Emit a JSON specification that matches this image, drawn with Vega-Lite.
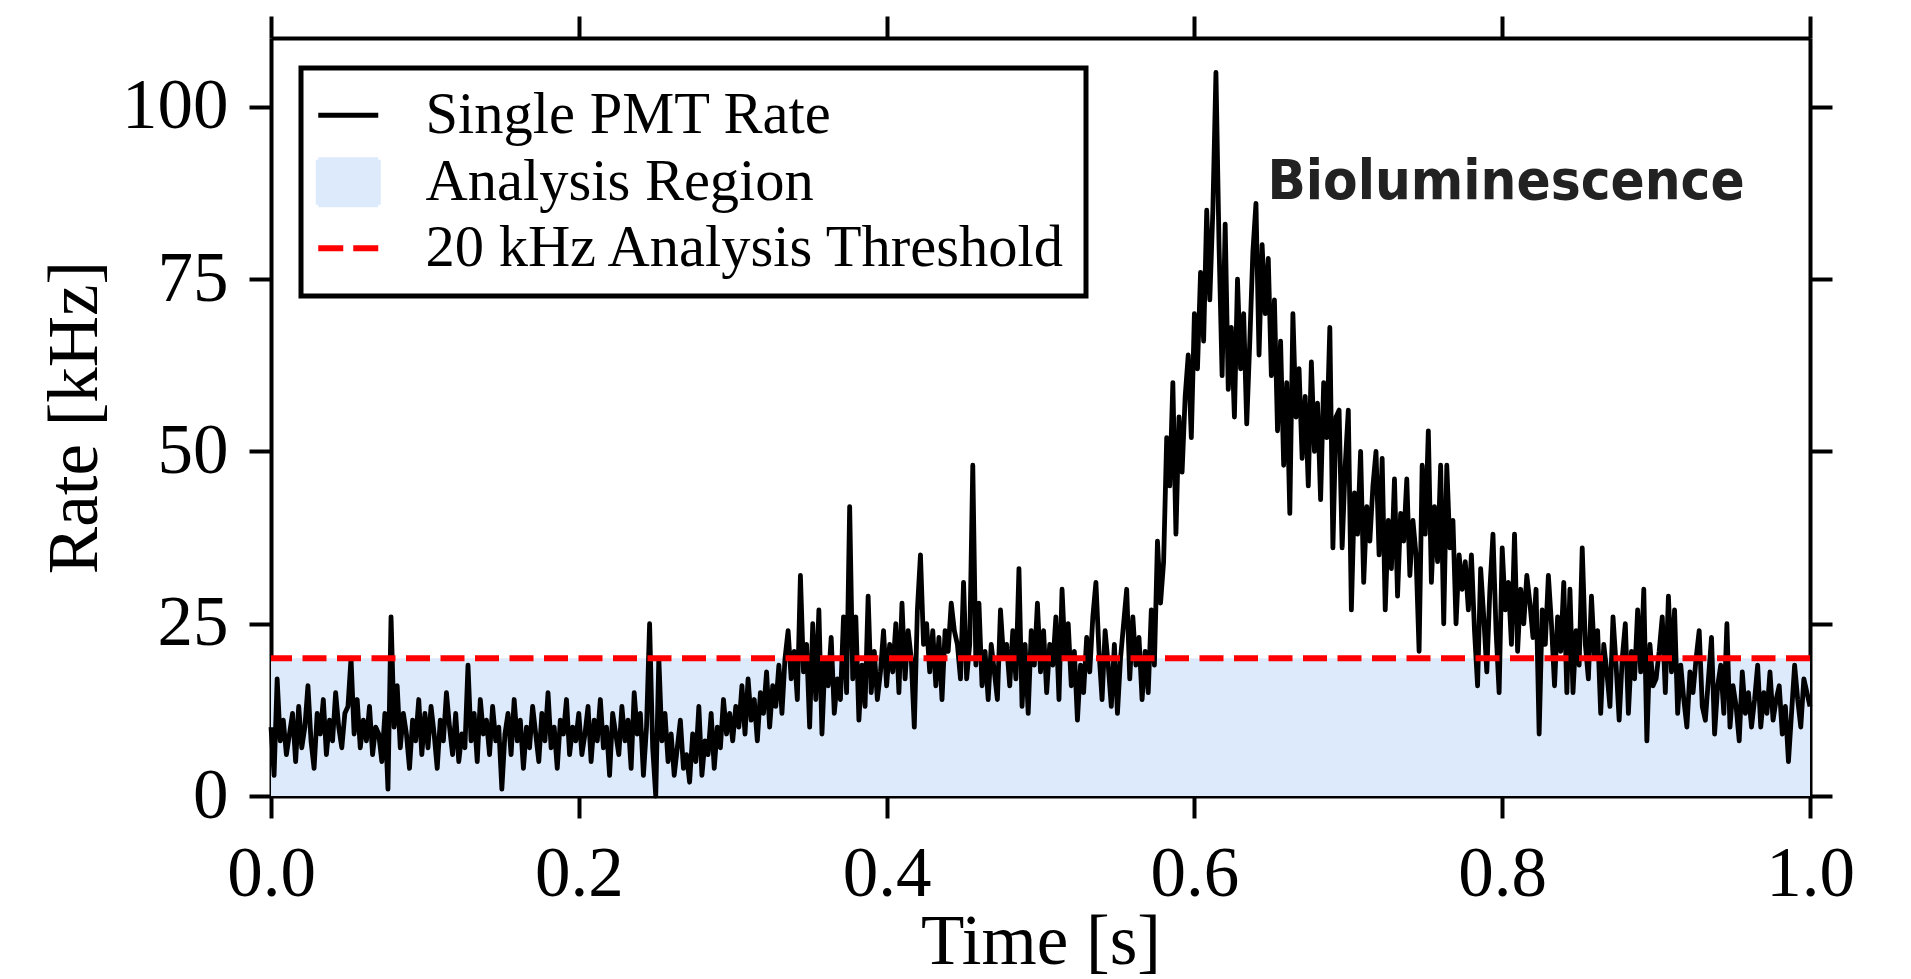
{
  "$schema": "https://vega.github.io/schema/vega-lite/v6.json",
  "width": 1539,
  "height": 758,
  "autosize": {"type": "none"},
  "padding": {"left": 271, "top": 38, "right": 101, "bottom": 183},
  "background": "white",
  "config": {
    "view": {"stroke": null},
    "legend": {"strokeWidth": 5, "strokeColor": "black", "fillColor": "white", "cornerRadius": 0},
    "axis": {
      "domainColor": "black", "domainWidth": 4, "tickColor": "black", "tickWidth": 4, "tickSize": 22,
      "labelFont": "Liberation Serif", "labelFontSize": 71, "labelColor": "black", "labelPadding": 21,
      "labelFlush": false, "labelOverlap": false,
      "titleFont": "Liberation Serif", "titleFontSize": 71, "titleFontWeight": "normal", "titleColor": "black",
      "grid": false
    }
  },
  "resolve": {"axis": {"x": "independent", "y": "independent"}},
  "layer": [
    {
      "data": {"values": [{"x0": 0, "x1": 1, "y0": 0, "y1": 20}]},
      "mark": {"type": "rect"},
      "encoding": {
        "x": {"field": "x0", "type": "quantitative", "scale": {"domain": [0, 1], "nice": false},
              "axis": {"orient": "bottom", "title": "Time [s]", "values": [0, 0.2, 0.4, 0.6, 0.8, 1], "format": ".1f", "titlePadding": -2}},
        "x2": {"field": "x1"},
        "y": {"field": "y0", "type": "quantitative", "scale": {"domain": [0, 110], "nice": false, "zero": true},
              "axis": {"orient": "left", "title": "Rate [kHz]", "values": [0, 25, 50, 75, 100], "titlePadding": 10}},
        "y2": {"field": "y1"},
        "color": {
          "datum": "Analysis Region", "type": "nominal",
          "scale": {"domain": ["Single PMT Rate", "Analysis Region", "20 kHz Analysis Threshold"], "range": ["black", "#ddeafc", "red"]},
          "legend": {
            "title": null, "orient": "top-left", "offset": 30, "padding": 18,
            "strokeColor": "black", "fillColor": "white",
            "symbolSize": 3600, "symbolStrokeWidth": 5, "symbolOffset": 0,
            "labelFont": "Liberation Serif", "labelFontSize": 58.5, "labelColor": "black", "labelOffset": 48, "labelLimit": 1200,
            "rowPadding": 4,
            "encode": {"symbols": {"update": {
              "shape": {"signal": "datum.value === 'Analysis Region' ? 'M-1,-0.75H1V0.75H-1Z' : 'stroke'"},
              "fill": {"signal": "datum.value === 'Analysis Region' ? '#ddeafc' : 'transparent'"},
              "stroke": {"signal": "datum.value === 'Single PMT Rate' ? 'black' : (datum.value === 'Analysis Region' ? 'transparent' : 'red')"},
              "strokeDash": {"signal": "datum.value === '20 kHz Analysis Threshold' ? [25, 10] : [1, 0]"},
              "strokeWidth": {"signal": "datum.value === '20 kHz Analysis Threshold' ? 6 : 5"},
              "opacity": {"value": 1},
              "fillOpacity": {"value": 1},
              "strokeOpacity": {"value": 1}
            }}}
          }
        }
      }
    },
    {
      "data": {"values": [
        {"t":0.000,"r":10},{"t":0.002,"r":3},{"t":0.004,"r":17},{"t":0.006,"r":8},{"t":0.008,"r":11},{"t":0.010,"r":6},{"t":0.012,"r":9},{"t":0.014,"r":12},{"t":0.016,"r":5},{"t":0.018,"r":13},{"t":0.020,"r":7},{"t":0.022,"r":10},{"t":0.024,"r":16},{"t":0.026,"r":8},{"t":0.028,"r":4},{"t":0.030,"r":12},{"t":0.032,"r":9},{"t":0.034,"r":14},{"t":0.036,"r":6},{"t":0.038,"r":11},{"t":0.040,"r":8},{"t":0.042,"r":15},{"t":0.044,"r":10},{"t":0.046,"r":7},{"t":0.048,"r":12},
        {"t":0.050,"r":13},{"t":0.052,"r":20},{"t":0.054,"r":9},{"t":0.056,"r":14},{"t":0.058,"r":7},{"t":0.060,"r":11},{"t":0.062,"r":8},{"t":0.064,"r":13},{"t":0.066,"r":6},{"t":0.068,"r":10},{"t":0.070,"r":9},{"t":0.072,"r":5},{"t":0.074,"r":12},{"t":0.076,"r":1},{"t":0.078,"r":26},{"t":0.080,"r":10},{"t":0.082,"r":16},{"t":0.084,"r":7},{"t":0.086,"r":12},{"t":0.088,"r":9},{"t":0.090,"r":4},{"t":0.092,"r":11},{"t":0.094,"r":8},{"t":0.096,"r":14},{"t":0.098,"r":6},
        {"t":0.100,"r":12},{"t":0.102,"r":7},{"t":0.104,"r":13},{"t":0.106,"r":9},{"t":0.108,"r":4},{"t":0.110,"r":11},{"t":0.112,"r":8},{"t":0.114,"r":15},{"t":0.116,"r":10},{"t":0.118,"r":6},{"t":0.120,"r":12},{"t":0.122,"r":5},{"t":0.124,"r":9},{"t":0.126,"r":7},{"t":0.128,"r":19},{"t":0.130,"r":8},{"t":0.132,"r":12},{"t":0.134,"r":5},{"t":0.136,"r":14},{"t":0.138,"r":9},{"t":0.140,"r":11},{"t":0.142,"r":6},{"t":0.144,"r":13},{"t":0.146,"r":8},{"t":0.148,"r":10},
        {"t":0.150,"r":1},{"t":0.152,"r":9},{"t":0.154,"r":12},{"t":0.156,"r":6},{"t":0.158,"r":14},{"t":0.160,"r":8},{"t":0.162,"r":11},{"t":0.164,"r":4},{"t":0.166,"r":10},{"t":0.168,"r":7},{"t":0.170,"r":13},{"t":0.172,"r":9},{"t":0.174,"r":5},{"t":0.176,"r":12},{"t":0.178,"r":8},{"t":0.180,"r":15},{"t":0.182,"r":7},{"t":0.184,"r":10},{"t":0.186,"r":4},{"t":0.188,"r":11},{"t":0.190,"r":9},{"t":0.192,"r":14},{"t":0.194,"r":6},{"t":0.196,"r":10},{"t":0.198,"r":8},
        {"t":0.200,"r":12},{"t":0.202,"r":6},{"t":0.204,"r":9},{"t":0.206,"r":13},{"t":0.208,"r":5},{"t":0.210,"r":11},{"t":0.212,"r":8},{"t":0.214,"r":14},{"t":0.216,"r":7},{"t":0.218,"r":10},{"t":0.220,"r":3},{"t":0.222,"r":12},{"t":0.224,"r":9},{"t":0.226,"r":6},{"t":0.228,"r":13},{"t":0.230,"r":8},{"t":0.232,"r":11},{"t":0.234,"r":4},{"t":0.236,"r":15},{"t":0.238,"r":9},{"t":0.240,"r":12},{"t":0.242,"r":3},{"t":0.244,"r":10},{"t":0.246,"r":25},{"t":0.248,"r":7},
        {"t":0.250,"r":0},{"t":0.252,"r":20},{"t":0.254,"r":8},{"t":0.256,"r":12},{"t":0.258,"r":5},{"t":0.260,"r":9},{"t":0.262,"r":3},{"t":0.264,"r":7},{"t":0.266,"r":11},{"t":0.268,"r":4},{"t":0.270,"r":6},{"t":0.272,"r":2},{"t":0.274,"r":9},{"t":0.276,"r":5},{"t":0.278,"r":13},{"t":0.280,"r":3},{"t":0.282,"r":8},{"t":0.284,"r":6},{"t":0.286,"r":12},{"t":0.288,"r":4},{"t":0.290,"r":10},{"t":0.292,"r":7},{"t":0.294,"r":14},{"t":0.296,"r":9},{"t":0.298,"r":12},
        {"t":0.300,"r":8},{"t":0.302,"r":13},{"t":0.304,"r":10},{"t":0.306,"r":16},{"t":0.308,"r":9},{"t":0.310,"r":17},{"t":0.312,"r":11},{"t":0.314,"r":14},{"t":0.316,"r":8},{"t":0.318,"r":15},{"t":0.320,"r":12},{"t":0.322,"r":18},{"t":0.324,"r":10},{"t":0.326,"r":16},{"t":0.328,"r":13},{"t":0.330,"r":19},{"t":0.332,"r":12},{"t":0.334,"r":20},{"t":0.336,"r":24},{"t":0.338,"r":17},{"t":0.340,"r":21},{"t":0.342,"r":14},{"t":0.344,"r":32},{"t":0.346,"r":18},{"t":0.348,"r":22},
        {"t":0.350,"r":10},{"t":0.352,"r":25},{"t":0.354,"r":14},{"t":0.356,"r":27},{"t":0.358,"r":9},{"t":0.360,"r":20},{"t":0.362,"r":16},{"t":0.364,"r":23},{"t":0.366,"r":12},{"t":0.368,"r":17},{"t":0.370,"r":14},{"t":0.372,"r":26},{"t":0.374,"r":15},{"t":0.376,"r":42},{"t":0.378,"r":17},{"t":0.380,"r":26},{"t":0.382,"r":11},{"t":0.384,"r":19},{"t":0.386,"r":13},{"t":0.388,"r":29},{"t":0.390,"r":15},{"t":0.392,"r":21},{"t":0.394,"r":14},{"t":0.396,"r":18},{"t":0.398,"r":24},
        {"t":0.400,"r":16},{"t":0.402,"r":22},{"t":0.404,"r":18},{"t":0.406,"r":25},{"t":0.408,"r":15},{"t":0.410,"r":28},{"t":0.412,"r":17},{"t":0.414,"r":24},{"t":0.416,"r":20},{"t":0.418,"r":10},{"t":0.420,"r":27},{"t":0.422,"r":35},{"t":0.424,"r":22},{"t":0.426,"r":25},{"t":0.428,"r":18},{"t":0.430,"r":24},{"t":0.432,"r":16},{"t":0.434,"r":23},{"t":0.436,"r":14},{"t":0.438,"r":24},{"t":0.440,"r":21},{"t":0.442,"r":28},{"t":0.444,"r":24},{"t":0.446,"r":22},{"t":0.448,"r":17},
        {"t":0.450,"r":31},{"t":0.452,"r":17},{"t":0.454,"r":22},{"t":0.456,"r":48},{"t":0.458,"r":19},{"t":0.460,"r":28},{"t":0.462,"r":16},{"t":0.464,"r":21},{"t":0.466,"r":14},{"t":0.468,"r":22},{"t":0.470,"r":18},{"t":0.472,"r":14},{"t":0.474,"r":27},{"t":0.476,"r":20},{"t":0.478,"r":22},{"t":0.480,"r":16},{"t":0.482,"r":24},{"t":0.484,"r":17},{"t":0.486,"r":33},{"t":0.488,"r":13},{"t":0.490,"r":22},{"t":0.492,"r":12},{"t":0.494,"r":24},{"t":0.496,"r":19},{"t":0.498,"r":28},
        {"t":0.500,"r":18},{"t":0.502,"r":24},{"t":0.504,"r":15},{"t":0.506,"r":22},{"t":0.508,"r":19},{"t":0.510,"r":26},{"t":0.512,"r":14},{"t":0.514,"r":30},{"t":0.516,"r":20},{"t":0.518,"r":25},{"t":0.520,"r":16},{"t":0.522,"r":21},{"t":0.524,"r":11},{"t":0.526,"r":19},{"t":0.528,"r":15},{"t":0.530,"r":23},{"t":0.532,"r":18},{"t":0.534,"r":26},{"t":0.536,"r":31},{"t":0.538,"r":21},{"t":0.540,"r":14},{"t":0.542,"r":24},{"t":0.544,"r":19},{"t":0.546,"r":13},{"t":0.548,"r":22},
        {"t":0.550,"r":12},{"t":0.552,"r":20},{"t":0.554,"r":25},{"t":0.556,"r":30},{"t":0.558,"r":17},{"t":0.560,"r":26},{"t":0.562,"r":19},{"t":0.564,"r":23},{"t":0.566,"r":14},{"t":0.568,"r":21},{"t":0.570,"r":15},{"t":0.572,"r":27},{"t":0.574,"r":19},{"t":0.576,"r":37},{"t":0.578,"r":28},{"t":0.580,"r":34},{"t":0.582,"r":52},{"t":0.584,"r":45},{"t":0.586,"r":60},{"t":0.588,"r":38},{"t":0.590,"r":55},{"t":0.592,"r":47},{"t":0.594,"r":58},{"t":0.596,"r":64},{"t":0.598,"r":52},
        {"t":0.600,"r":70},{"t":0.602,"r":62},{"t":0.604,"r":76},{"t":0.606,"r":66},{"t":0.608,"r":85},{"t":0.610,"r":72},{"t":0.612,"r":85},{"t":0.614,"r":105},{"t":0.616,"r":80},{"t":0.618,"r":61},{"t":0.620,"r":83},{"t":0.622,"r":59},{"t":0.624,"r":68},{"t":0.626,"r":55},{"t":0.628,"r":75},{"t":0.630,"r":62},{"t":0.632,"r":70},{"t":0.634,"r":54},{"t":0.636,"r":66},{"t":0.638,"r":79},{"t":0.640,"r":86},{"t":0.642,"r":64},{"t":0.644,"r":80},{"t":0.646,"r":70},{"t":0.648,"r":78},
        {"t":0.650,"r":61},{"t":0.652,"r":72},{"t":0.654,"r":53},{"t":0.656,"r":66},{"t":0.658,"r":48},{"t":0.660,"r":60},{"t":0.662,"r":41},{"t":0.664,"r":70},{"t":0.666,"r":55},{"t":0.668,"r":62},{"t":0.670,"r":49},{"t":0.672,"r":58},{"t":0.674,"r":45},{"t":0.676,"r":63},{"t":0.678,"r":50},{"t":0.680,"r":57},{"t":0.682,"r":43},{"t":0.684,"r":60},{"t":0.686,"r":52},{"t":0.688,"r":68},{"t":0.690,"r":36},{"t":0.692,"r":55},{"t":0.694,"r":56},{"t":0.696,"r":36},{"t":0.698,"r":48},
        {"t":0.700,"r":56},{"t":0.702,"r":27},{"t":0.704,"r":44},{"t":0.706,"r":38},{"t":0.708,"r":50},{"t":0.710,"r":31},{"t":0.712,"r":42},{"t":0.714,"r":37},{"t":0.716,"r":45},{"t":0.718,"r":50},{"t":0.720,"r":35},{"t":0.722,"r":49},{"t":0.724,"r":27},{"t":0.726,"r":40},{"t":0.728,"r":33},{"t":0.730,"r":46},{"t":0.732,"r":29},{"t":0.734,"r":41},{"t":0.736,"r":37},{"t":0.738,"r":46},{"t":0.740,"r":32},{"t":0.742,"r":40},{"t":0.744,"r":35},{"t":0.746,"r":21},{"t":0.748,"r":48},
        {"t":0.750,"r":38},{"t":0.752,"r":53},{"t":0.754,"r":31},{"t":0.756,"r":42},{"t":0.758,"r":34},{"t":0.760,"r":48},{"t":0.762,"r":25},{"t":0.764,"r":48},{"t":0.766,"r":36},{"t":0.768,"r":40},{"t":0.770,"r":25},{"t":0.772,"r":35},{"t":0.774,"r":30},{"t":0.776,"r":34},{"t":0.778,"r":27},{"t":0.780,"r":35},{"t":0.782,"r":24},{"t":0.784,"r":16},{"t":0.786,"r":33},{"t":0.788,"r":26},{"t":0.790,"r":18},{"t":0.792,"r":30},{"t":0.794,"r":38},{"t":0.796,"r":24},{"t":0.798,"r":15},
        {"t":0.800,"r":36},{"t":0.802,"r":27},{"t":0.804,"r":31},{"t":0.806,"r":22},{"t":0.808,"r":38},{"t":0.810,"r":21},{"t":0.812,"r":30},{"t":0.814,"r":25},{"t":0.816,"r":32},{"t":0.818,"r":28},{"t":0.820,"r":23},{"t":0.822,"r":30},{"t":0.824,"r":9},{"t":0.826,"r":27},{"t":0.828,"r":22},{"t":0.830,"r":32},{"t":0.832,"r":25},{"t":0.834,"r":16},{"t":0.836,"r":26},{"t":0.838,"r":21},{"t":0.840,"r":31},{"t":0.842,"r":15},{"t":0.844,"r":30},{"t":0.846,"r":15},{"t":0.848,"r":24},
        {"t":0.850,"r":19},{"t":0.852,"r":36},{"t":0.854,"r":22},{"t":0.856,"r":17},{"t":0.858,"r":29},{"t":0.860,"r":20},{"t":0.862,"r":24},{"t":0.864,"r":12},{"t":0.866,"r":22},{"t":0.868,"r":18},{"t":0.870,"r":13},{"t":0.872,"r":26},{"t":0.874,"r":19},{"t":0.876,"r":11},{"t":0.878,"r":20},{"t":0.880,"r":25},{"t":0.882,"r":12},{"t":0.884,"r":21},{"t":0.886,"r":17},{"t":0.888,"r":27},{"t":0.890,"r":18},{"t":0.892,"r":30},{"t":0.894,"r":8},{"t":0.896,"r":22},{"t":0.898,"r":16},
        {"t":0.900,"r":17},{"t":0.902,"r":21},{"t":0.904,"r":26},{"t":0.906,"r":15},{"t":0.908,"r":29},{"t":0.910,"r":18},{"t":0.912,"r":27},{"t":0.914,"r":12},{"t":0.916,"r":19},{"t":0.918,"r":14},{"t":0.920,"r":10},{"t":0.922,"r":18},{"t":0.924,"r":15},{"t":0.926,"r":20},{"t":0.928,"r":24},{"t":0.930,"r":13},{"t":0.932,"r":11},{"t":0.934,"r":17},{"t":0.936,"r":23},{"t":0.938,"r":9},{"t":0.940,"r":16},{"t":0.942,"r":19},{"t":0.944,"r":12},{"t":0.946,"r":25},{"t":0.948,"r":10},
        {"t":0.950,"r":16},{"t":0.952,"r":13},{"t":0.954,"r":8},{"t":0.956,"r":18},{"t":0.958,"r":12},{"t":0.960,"r":15},{"t":0.962,"r":10},{"t":0.964,"r":14},{"t":0.966,"r":19},{"t":0.968,"r":10},{"t":0.970,"r":15},{"t":0.972,"r":12},{"t":0.974,"r":18},{"t":0.976,"r":11},{"t":0.978,"r":14},{"t":0.980,"r":16},{"t":0.982,"r":9},{"t":0.984,"r":13},{"t":0.986,"r":5},{"t":0.988,"r":12},{"t":0.990,"r":19},{"t":0.992,"r":14},{"t":0.994,"r":10},{"t":0.996,"r":17},{"t":0.998,"r":15},{"t":1.000,"r":13}
      ]},
      "mark": {"type": "line", "strokeWidth": 4.8, "strokeJoin": "round"},
      "encoding": {
        "x": {"field": "t", "type": "quantitative", "scale": {"domain": [0, 1], "nice": false},
              "axis": {"orient": "top", "labels": false, "title": null, "values": [0, 0.2, 0.4, 0.6, 0.8, 1]}},
        "y": {"field": "r", "type": "quantitative", "scale": {"domain": [0, 110], "nice": false},
              "axis": {"orient": "right", "labels": false, "title": null, "values": [0, 25, 50, 75, 100]}},
        "color": {"datum": "Single PMT Rate", "type": "nominal"}
      }
    },
    {
      "data": {"values": [{"y": 20}]},
      "mark": {"type": "rule", "strokeWidth": 6, "strokeDash": [24, 10.5]},
      "encoding": {
        "y": {"field": "y", "type": "quantitative", "axis": null},
        "color": {"datum": "20 kHz Analysis Threshold", "type": "nominal"}
      }
    },
    {
      "data": {"values": [{"x": 0.8025, "y": 86.6, "label": "Bioluminescence"}]},
      "mark": {"type": "text", "font": "DejaVu Sans Condensed, Noto Sans Condensed, Roboto Condensed, Roboto", "fontWeight": "bold", "fontSize": 56, "fill": "#222222", "align": "center", "baseline": "alphabetic"},
      "encoding": {
        "x": {"field": "x", "type": "quantitative", "axis": null},
        "y": {"field": "y", "type": "quantitative", "axis": null},
        "text": {"field": "label"}
      }
    }
  ]
}
